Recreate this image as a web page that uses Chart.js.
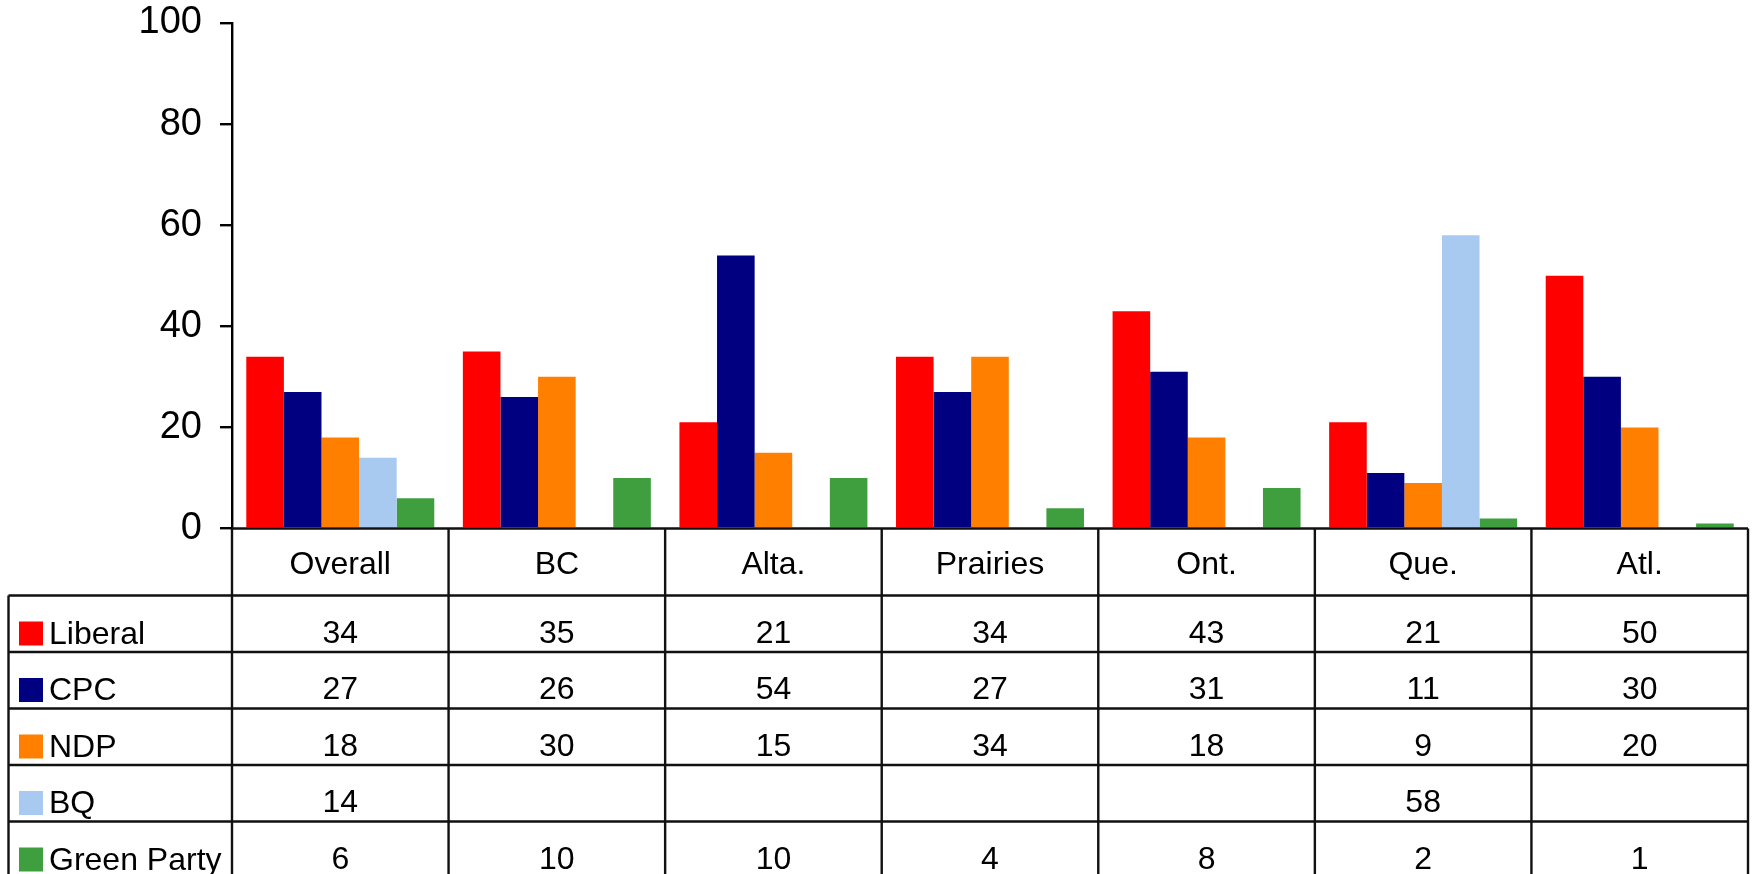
<!DOCTYPE html>
<html>
<head>
<meta charset="utf-8">
<script src="https://cdn.jsdelivr.net/npm/chart.js@4/dist/chart.umd.min.js"></script>
<style>
  html, body { margin: 0; padding: 0; background: #fff; }
  #wrap { width: 1754px; height: 874px; }
</style>
</head>
<body>
<div id="wrap"><canvas id="pollChart"></canvas></div>
<script>
const regions = ['Overall', 'BC', 'Alta.', 'Prairies', 'Ont.', 'Que.', 'Atl.'];
const liberal = [34, 35, 21, 34, 43, 21, 50];
const cpc = [27, 26, 54, 27, 31, 11, 30];
const ndp = [18, 30, 15, 34, 18, 9, 20];
const bq = [14, null, null, null, null, 58, null];
const green = [6, 10, 10, 4, 8, 2, 1];
const yTicks = [0, 20, 40, 60, 80, 100];

const seriesNames = ['Liberal', 'CPC', 'NDP', 'BQ', 'Green Party'];
const seriesData = [liberal, cpc, ndp, bq, green];
const seriesColors = ['#ff0000', '#000080', '#ff8000', '#a9caf0', '#3f9f3f'];

const FONT = "'Liberation Sans', Arial, sans-serif";

// draws the data table under the plot, columns taken from the x scale
const dataTablePlugin = {
    id: 'dataTable',
    afterDraw(chart) {
        const ctx = chart.ctx;
        const xs = chart.scales.x;
        const ys = chart.scales.y;
        const area = chart.chartArea;
        const colW = (area.right - area.left) / regions.length;
        const top = ys.getPixelForValue(0);
        const headH = 67;
        const rowH = 56.5;
        const bodyTop = top + headH;
        const leftEdge = 8.5;

        ctx.save();
        ctx.strokeStyle = '#111';
        ctx.lineWidth = 2.4;
        ctx.beginPath();
        ctx.moveTo(area.left, top);
        ctx.lineTo(area.right, top);
        for (let r = 0; r <= seriesNames.length; r++) {
            const yy = bodyTop + r * rowH;
            ctx.moveTo(leftEdge, yy);
            ctx.lineTo(area.right, yy);
        }
        for (let i = 0; i <= regions.length; i++) {
            const xx = area.left + i * colW;
            ctx.moveTo(xx, top);
            ctx.lineTo(xx, chart.height);
        }
        ctx.moveTo(leftEdge, bodyTop);
        ctx.lineTo(leftEdge, chart.height);
        ctx.stroke();

        ctx.fillStyle = '#000';
        ctx.font = '32px ' + FONT;
        ctx.textBaseline = 'alphabetic';
        ctx.textAlign = 'center';
        regions.forEach((name, i) => {
            ctx.fillText(name, xs.getPixelForValue(i), top + 45);
        });

        seriesNames.forEach((name, r) => {
            const rowTop = bodyTop + r * rowH;
            // legend key + series name
            ctx.fillStyle = seriesColors[r];
            ctx.fillRect(19, rowTop + 26, 24, 24);
            ctx.fillStyle = '#000';
            ctx.textAlign = 'left';
            ctx.fillText(name, 49, rowTop + 48);
            ctx.textAlign = 'center';
            seriesData[r].forEach((v, i) => {
                if (v === null) return;
                ctx.fillText(String(v), xs.getPixelForValue(i), rowTop + 47);
            });
        });
        ctx.restore();
    }
};

new Chart(document.getElementById('pollChart'), {
    type: 'bar',
    data: {
        labels: regions,
        datasets: seriesNames.map((name, k) => ({
            label: name,
            data: seriesData[k],
            backgroundColor: seriesColors[k],
            borderWidth: 0,
            barPercentage: 1,
            categoryPercentage: 0.868
        }))
    },
    options: {
        responsive: true,
        maintainAspectRatio: false,
        animation: false,
        layout: { padding: { top: 23, right: 6, bottom: 345.5, left: 0 } },
        plugins: {
            legend: { display: false },
            tooltip: { enabled: false }
        },
        scales: {
            x: { display: false },
            y: {
                min: yTicks[0],
                max: yTicks[yTicks.length - 1],
                afterBuildTicks: (scale) => { scale.ticks = yTicks.map(v => ({ value: v })); },
                afterFit: (scale) => {
                    scale.width = 232;
                    scale.paddingTop = 0;
                    scale.paddingBottom = 0;
                },
                ticks: {
                    color: '#000',
                    padding: 18,
                    font: { family: FONT, size: 38 }
                },
                grid: {
                    drawOnChartArea: false,
                    drawTicks: true,
                    tickLength: 12,
                    color: '#000',
                    lineWidth: 2.4
                },
                border: { display: true, color: '#000', width: 2.4 }
            }
        }
    },
    plugins: [dataTablePlugin]
});
</script>
</body>
</html>
